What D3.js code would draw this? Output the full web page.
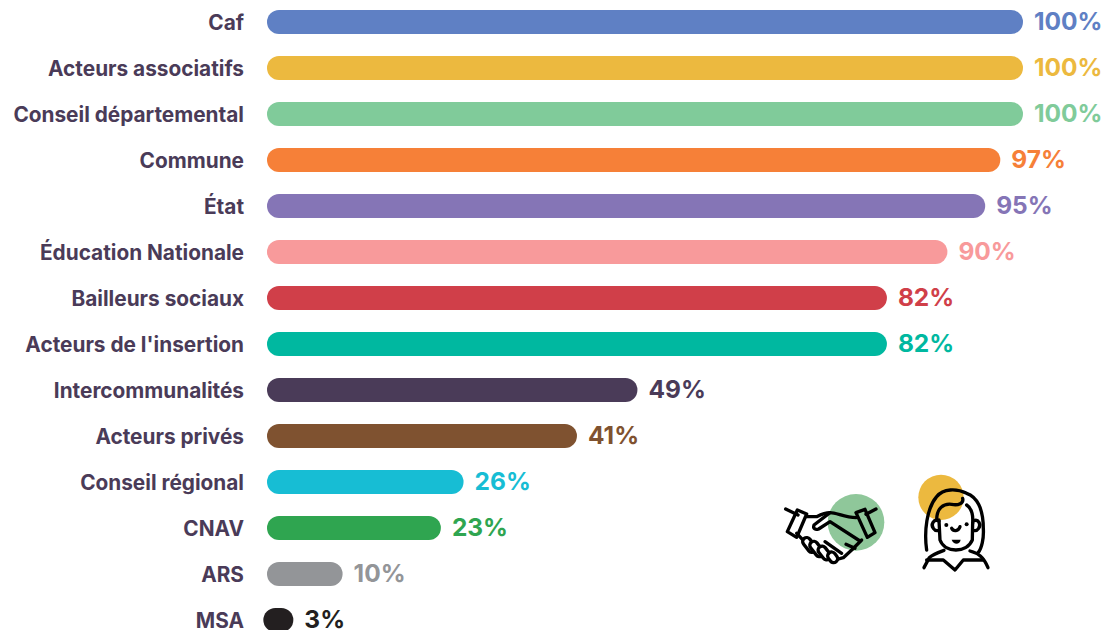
<!DOCTYPE html>
<html>
<head>
  <meta charset="utf-8">
  <title>Partenaires</title>
  <script src="https://d3js.org/d3.v7.min.js"></script>
  <style>
    html, body { margin: 0; padding: 0; background: #fff; overflow: hidden; }
    text { font-family: Inter, sans-serif; }
  </style>
</head>
<body>
  <div id="chart"></div>
  <script>
    const categories = ["Caf", "Acteurs associatifs", "Conseil départemental", "Commune", "État", "Éducation Nationale", "Bailleurs sociaux", "Acteurs de l'insertion", "Intercommunalités", "Acteurs privés", "Conseil régional", "CNAV", "ARS", "MSA"];
    const values = [100, 100, 100, 97, 95, 90, 82, 82, 49, 41, 26, 23, 10, 3];
    const colors = ["#5f80c4", "#ecb93f", "#80cb9a", "#f68038", "#8575b6", "#f89a9b", "#d03f49", "#00b8a0", "#4a3b58", "#7f5230", "#17bdd4", "#2fa550", "#939598", "#231f20"];

    const width = 1107, height = 630;
    const barHeight = 24, minBar = 30;

    const svg = d3.select("#chart").append("svg")
      .attr("width", width)
      .attr("height", height)
      .style("display", "block");

    const x = d3.scaleLinear().domain([0, 100]).range([267, 1023]);
    const y = d3.scalePoint().domain(categories).range([22, 620]);

    const barW = v => Math.max(x(v) - x(0), minBar);
    // very small bars keep a minimum pill width, centred on the real bar
    const barX = v => x(0) + (x(v) - x(0)) / 2 - barW(v) / 2;

    const rows = categories.map((name, i) => ({ name, value: values[i], color: colors[i] }));

    svg.selectAll(".bar").data(rows).enter().append("rect")
      .attr("class", "bar")
      .attr("x", d => barX(d.value))
      .attr("y", d => y(d.name) - barHeight / 2)
      .attr("width", d => barW(d.value))
      .attr("height", barHeight)
      .attr("rx", barHeight / 2)
      .attr("fill", d => d.color);

    svg.selectAll(".name").data(rows).enter().append("text")
      .attr("class", "name")
      .attr("x", 244)
      .attr("y", d => y(d.name) + 8)
      .attr("text-anchor", "end")
      .attr("font-size", 20.8)
      .attr("font-weight", 700)
      .attr("fill", "#4a3b58")
      .text(d => d.name);

    svg.selectAll(".pct").data(rows).enter().append("text")
      .attr("class", "pct")
      .attr("x", d => barX(d.value) + barW(d.value) + 11)
      .attr("y", d => y(d.name) + 8)
      .attr("font-size", 24.5)
      .attr("font-weight", 700)
      .attr("fill", d => d.color)
      .text(d => d.value + "%");

    // icons, drawn in a 3x local grid
    const icons = svg.append("g").attr("transform", "translate(770,465) scale(0.3333)");
    icons.append("circle").attr("cx", 258).attr("cy", 172).attr("r", 85).attr("fill", "#8fc79a");
    icons.append("circle").attr("cx", 513).attr("cy", 97).attr("r", 68).attr("fill", "#ecb93f");

    const lines = icons.append("g")
      .attr("fill", "none")
      .attr("stroke", "#000")
      .attr("stroke-width", 10)
      .attr("stroke-linecap", "round")
      .attr("stroke-linejoin", "round");

    const handshake = [
      "M47 132L84 150",
      "M82 135L110 147L80 217L52 200Z",
      "M288 148L318 132",
      "M258 143L285 133L315 203L292 217Z",
      "M110 155L140 155C150 150 165 143 180 143C200 143 225 158 258 158",
      "M180 143L132 180C128 190 136 196 146 192L180 170L270 228",
      "M80 205L100 226",
      "M275 225L245 255L220 278L195 285",
      "M165 230L215 265",
      "M228 238L255 250"
    ];
    lines.selectAll(".hand").data(handshake).enter().append("path").attr("class", "hand").attr("d", d => d);

    lines.selectAll(".finger").data([[118, 240, 50], [140, 252, 52], [163, 264, 46], [188, 277, 34]]).enter().append("rect")
      .attr("class", "finger")
      .attr("x", d => -d[2] / 2).attr("y", -12).attr("width", d => d[2]).attr("height", 24).attr("rx", 12)
      .attr("transform", d => `translate(${d[0]},${d[1]}) rotate(52)`)
      .attr("fill", "#fff");

    const woman = [
      "M470 255C462 200 470 130 500 95C520 70 560 70 590 85C620 95 640 130 640 190C642 220 635 250 625 262",
      "M500 165C500 130 520 115 545 118C565 122 582 115 578 100",
      "M590 120C605 130 610 150 608 175",
      "M507 165L510 225C525 265 590 265 607 225L608 175",
      "M507 168C490 160 482 180 490 190C494 196 500 198 507 196",
      "M610 168C626 160 634 180 626 190C622 196 616 198 610 196",
      "M545 190C550 200 565 200 570 185",
      "M462 308L478 278C488 268 505 262 522 256",
      "M470 285L520 285L555 315L580 285L640 285",
      "M600 258C625 265 640 275 654 308"
    ];
    lines.selectAll(".woman").data(woman).enter().append("path").attr("class", "woman").attr("d", d => d);

    icons.selectAll(".eye").data([[529, 180], [590, 178]]).enter().append("circle")
      .attr("cx", d => d[0]).attr("cy", d => d[1]).attr("r", 6).attr("fill", "#000");
    icons.append("path").attr("d", "M545 224L572 224C570 240 550 240 545 224Z").attr("fill", "#000");
  </script>
</body>
</html>
